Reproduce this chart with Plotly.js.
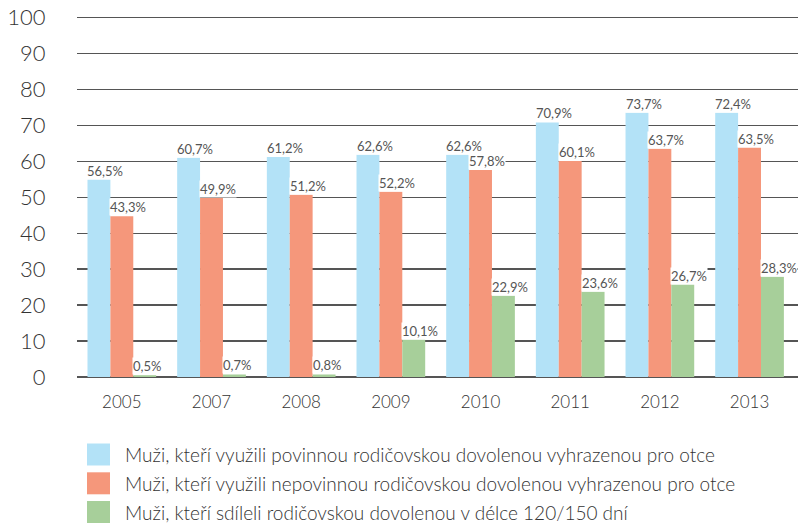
<!DOCTYPE html>
<html>
<head>
<meta charset="utf-8">
<script src="https://cdn.plot.ly/plotly-3.0.1.min.js"></script>
<style>html,body{margin:0;padding:0;background:#fff;}#chart{width:804px;height:525px;}</style>
</head>
<body>
<div id="chart"></div>
<script>
var years = ['2005','2007','2008','2009','2010','2011','2012','2013'];
var seriesNames = [
  'Muži, kteří využili povinnou rodičovskou dovolenou vyhrazenou pro otce',
  'Muži, kteří využili nepovinnou rodičovskou dovolenou vyhrazenou pro otce',
  'Muži, kteří sdíleli rodičovskou dovolenou v délce 120/150 dní'
];
// bar heights as drawn
var povinnou = [54.9, 61.0, 61.2, 61.8, 61.8, 70.8, 73.5, 73.5];
var nepovinnou = [44.7, 49.8, 50.7, 51.5, 57.6, 60.1, 63.5, 63.8];
var sdileli = [0.5, 0.7, 0.7, 10.4, 22.6, 23.7, 25.7, 27.9];
// printed labels
var povinnouLbl = [56.5, 60.7, 61.2, 62.6, 62.6, 70.9, 73.7, 72.4];
var nepovinnouLbl = [43.3, 49.9, 51.2, 52.2, 57.8, 60.1, 63.7, 63.5];
var sdileliLbl = [0.5, 0.7, 0.8, 10.1, 22.9, 23.6, 26.7, 28.3];
var yTicks = [0,10,20,30,40,50,60,70,80,90,100];

var colors = ['#b3e2f7', '#f5977b', '#a7cf9a'];
var values = [povinnou, nepovinnou, sdileli];
var labels = [povinnouLbl, nepovinnouLbl, sdileliLbl];

var traces = values.map(function(v, i){
  return {type:'bar', x: years, y: v, name: seriesNames[i],
    marker:{color: colors[i], line:{width:0}}, showlegend:false, hoverinfo:'skip'};
});

var yMax = 100.4;
var plotTop = 16, plotBottom = 377, plotLeft = 77, plotRight = 798;
var barW = 22.9;
var annotations = [];
labels.forEach(function(arr, i){
  arr.forEach(function(val, j){
    annotations.push({x: j, y: values[i][j], xref:'x', yref:'y',
      text: val.toFixed(1).replace('.', ',') + '%', showarrow:false,
      xanchor:'left', yanchor:'bottom', xshift: (i - 1.5) * barW - 1, yshift: 0,
      bgcolor:'#ffffff', borderpad:0,
      font:{family:'Lato, sans-serif', size:13, color:'#555555', weight:400}});
  });
});

var shapes = [];
var legendY = [454.5, 483.3, 512];
var pw = plotRight - plotLeft, ph = plotBottom - plotTop;
seriesNames.forEach(function(n, i){
  shapes.push({type:'rect', xref:'paper', yref:'paper', layer:'above',
    x0: (87-plotLeft)/pw, x1: (110-plotLeft)/pw,
    y0: (plotBottom - legendY[i] + 11)/ph, y1: (plotBottom - legendY[i] - 11)/ph,
    fillcolor: colors[i], line:{width:0}});
  annotations.push({xref:'paper', yref:'paper', x:(124-plotLeft)/pw, y:(plotBottom - legendY[i])/ph,
    xanchor:'left', yanchor:'middle', showarrow:false, text:n, borderpad:0,
    font:{family:'Lato, sans-serif', size:19, color:'#333333', weight:300}});
});

var layout = {
  width: 804, height: 525,
  margin: {l:plotLeft, r:804-plotRight, t:plotTop, b:525-plotBottom},
  paper_bgcolor:'#ffffff', plot_bgcolor:'#ffffff',
  barmode:'group', bargap:0.234, bargroupgap:0,
  font:{family:'Lato, sans-serif', color:'#333333'},
  xaxis:{type:'category', showgrid:false, zeroline:false, showline:false,
    ticks:'outside', ticklen:10, tickcolor:'rgba(0,0,0,0)',
    tickfont:{family:'Lato, sans-serif', size:17, color:'#333333', weight:300}},
  yaxis:{range:[0,yMax], tickvals:yTicks, ticktext: yTicks.map(String),
    showgrid:true, gridcolor:'#555555', gridwidth:1.3, zeroline:true, zerolinecolor:'#555555', zerolinewidth:1.3,
    showline:false, ticks:'outside', ticklen:26, tickcolor:'rgba(0,0,0,0)',
    tickfont:{family:'Lato, sans-serif', size:22, color:'#333333', weight:300}},
  annotations: annotations,
  shapes: shapes
};

Plotly.newPlot('chart', traces, layout, {displayModeBar:false, staticPlot:true});
</script>
</body>
</html>
